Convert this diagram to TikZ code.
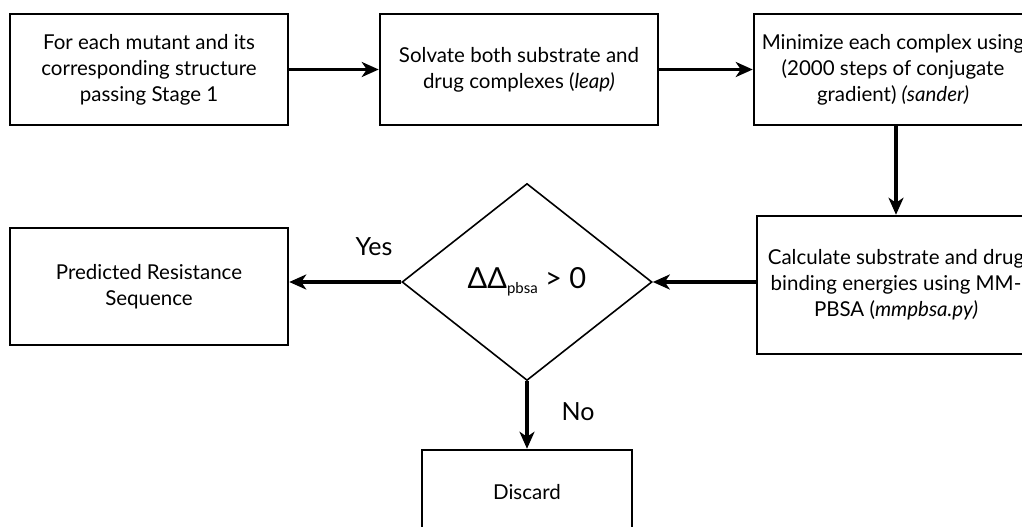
\documentclass[tikz,border=0pt]{standalone}
\usepackage{fontspec}
\setmainfont{Lato}
\usepackage{tikz}
\usetikzlibrary{shapes.geometric, arrows.meta, positioning}

\begin{document}
\begin{tikzpicture}[x=1pt, y=-1pt,
  stagebox/.style={draw, line width=2.5pt, minimum width=278pt, minimum height=111pt,
    inner sep=0pt, align=center, font=\fontsize{20.5}{26}\selectfont},
  decide/.style={draw, diamond, line width=1.6pt, minimum width=250pt, minimum height=197pt,
    inner sep=0pt, font=\fontsize{29}{30}\selectfont},
  flow/.style={line width=3.8pt, -{Stealth[length=17pt, width=15pt, inset=5pt]}},
  answer/.style={font=\fontsize{25}{26}\selectfont}]

\useasboundingbox (0,0) rectangle (1022,527);
\clip (0,0) rectangle (1022,527);

%//top row
\node [stagebox] (mutant) at (149, 69.5) {For each mutant and its\\corresponding structure\\passing Stage 1};
\node [stagebox] (solvate) at (519, 69.5) {Solvate both substrate and\\drug complexes (\textit{leap)}};
\node [stagebox] (minimize) at (893, 69.5) {Minimize each complex using\\(2000 steps of conjugate\\gradient) \textit{(sander)}};

%//middle row
\node [stagebox, minimum height=138pt] (binding) at (896, 285) {Calculate substrate and drug\\binding energies using MM-\\PBSA (\textit{mmpbsa.py)}};
\node [decide] (check) at (527, 282) {ΔΔ\raisebox{-5pt}{\fontsize{15}{15}\selectfont pbsa} > 0};
\node [stagebox, minimum height=117pt] (predicted) at (149, 286.5) {Predicted Resistance\\Sequence};

%//bottom
\node [stagebox, minimum width=210pt, minimum height=84pt] (discard) at (527, 492) {Discard};

\node [answer] (yes) at (374, 247) {Yes};
\node [answer] (no) at (578, 412) {No};

\draw [flow] (mutant.east) -- (solvate.west);
\draw [flow] (solvate.east) -- (minimize.west);
\draw [flow] (minimize.south -| binding.north) -- (binding.north);
\draw [flow] (binding.west |- check.east) -- (check.east);
\draw [flow] (check.west) -- (predicted.east |- check.west);
\draw [flow] (check.south) -- (discard.north);
\end{tikzpicture}
\end{document}
